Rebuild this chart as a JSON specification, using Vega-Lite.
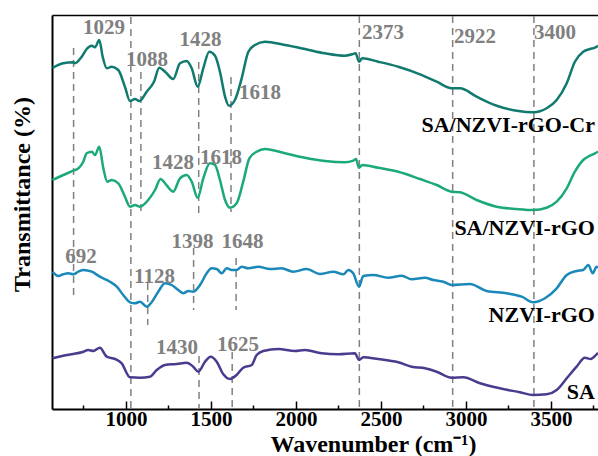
{
  "$schema": "https://vega.github.io/schema/vega-lite/v6.json",
  "width": 546,
  "height": 394,
  "autosize": {"type": "none"},
  "padding": {"left": 52, "top": 15, "right": 0, "bottom": 47},
  "config": {"view": {"stroke": null}, "font": "Liberation Serif"},
  "datasets": {
    "rules": [
      {"w": 692, "t": 361, "t2": 114},
      {"w": 1029, "t": 392, "t2": 0},
      {"w": 1088, "t": 337, "t2": 194},
      {"w": 1128, "t": 126, "t2": 84},
      {"w": 1398, "t": 161, "t2": 99},
      {"w": 1428, "t": 347, "t2": 191},
      {"w": 1430, "t": 53, "t2": 0},
      {"w": 1618, "t": 332, "t2": 197},
      {"w": 1625, "t": 57, "t2": 0},
      {"w": 1648, "t": 151, "t2": 99},
      {"w": 2373, "t": 393, "t2": 0},
      {"w": 2922, "t": 393, "t2": 0},
      {"w": 3400, "t": 393, "t2": 0}
    ],
    "peaks": [
      {"label": "1029", "w": 871, "t": 381},
      {"label": "1088", "w": 1124, "t": 349},
      {"label": "1428", "w": 1438, "t": 369},
      {"label": "1618", "w": 1788, "t": 316},
      {"label": "2373", "w": 2512, "t": 376},
      {"label": "2922", "w": 3053, "t": 372},
      {"label": "3400", "w": 3524, "t": 376},
      {"label": "1428", "w": 1277, "t": 246},
      {"label": "1618", "w": 1559, "t": 251},
      {"label": "692", "w": 736, "t": 152},
      {"label": "1128", "w": 1168, "t": 132},
      {"label": "1398", "w": 1391, "t": 167},
      {"label": "1648", "w": 1686, "t": 167},
      {"label": "1430", "w": 1300, "t": 61},
      {"label": "1625", "w": 1659, "t": 64}
    ],
    "names": [
      {"label": "SA/NZVI-rGO-Cr", "w": 3759, "t": 284},
      {"label": "SA/NZVI-rGO", "w": 3759, "t": 181},
      {"label": "NZVI-rGO", "w": 3759, "t": 94},
      {"label": "SA", "w": 3759, "t": 17}
    ],
    "spectra": [
      {"s": "SA/NZVI-rGO-Cr", "w": 568, "t": 341},
      {"s": "SA/NZVI-rGO-Cr", "w": 631, "t": 345.7},
      {"s": "SA/NZVI-rGO-Cr", "w": 690, "t": 346.7},
      {"s": "SA/NZVI-rGO-Cr", "w": 700, "t": 345.7},
      {"s": "SA/NZVI-rGO-Cr", "w": 740, "t": 352.3},
      {"s": "SA/NZVI-rGO-Cr", "w": 769, "t": 360},
      {"s": "SA/NZVI-rGO-Cr", "w": 799, "t": 363.3},
      {"s": "SA/NZVI-rGO-Cr", "w": 818, "t": 361.7},
      {"s": "SA/NZVI-rGO-Cr", "w": 843, "t": 369},
      {"s": "SA/NZVI-rGO-Cr", "w": 863, "t": 352.3},
      {"s": "SA/NZVI-rGO-Cr", "w": 887, "t": 340.7},
      {"s": "SA/NZVI-rGO-Cr", "w": 916, "t": 342.3},
      {"s": "SA/NZVI-rGO-Cr", "w": 955, "t": 339},
      {"s": "SA/NZVI-rGO-Cr", "w": 994, "t": 322.3},
      {"s": "SA/NZVI-rGO-Cr", "w": 1024, "t": 308},
      {"s": "SA/NZVI-rGO-Cr", "w": 1053, "t": 310},
      {"s": "SA/NZVI-rGO-Cr", "w": 1079, "t": 308},
      {"s": "SA/NZVI-rGO-Cr", "w": 1122, "t": 317.3},
      {"s": "SA/NZVI-rGO-Cr", "w": 1165, "t": 327.3},
      {"s": "SA/NZVI-rGO-Cr", "w": 1196, "t": 341.3},
      {"s": "SA/NZVI-rGO-Cr", "w": 1230, "t": 337.3},
      {"s": "SA/NZVI-rGO-Cr", "w": 1278, "t": 330},
      {"s": "SA/NZVI-rGO-Cr", "w": 1318, "t": 345.7},
      {"s": "SA/NZVI-rGO-Cr", "w": 1357, "t": 348},
      {"s": "SA/NZVI-rGO-Cr", "w": 1387, "t": 340.7},
      {"s": "SA/NZVI-rGO-Cr", "w": 1422, "t": 322.3},
      {"s": "SA/NZVI-rGO-Cr", "w": 1455, "t": 340.7},
      {"s": "SA/NZVI-rGO-Cr", "w": 1490, "t": 357.3},
      {"s": "SA/NZVI-rGO-Cr", "w": 1524, "t": 353.3},
      {"s": "SA/NZVI-rGO-Cr", "w": 1553, "t": 337.3},
      {"s": "SA/NZVI-rGO-Cr", "w": 1583, "t": 312.3},
      {"s": "SA/NZVI-rGO-Cr", "w": 1606, "t": 303.3},
      {"s": "SA/NZVI-rGO-Cr", "w": 1641, "t": 309},
      {"s": "SA/NZVI-rGO-Cr", "w": 1681, "t": 330.7},
      {"s": "SA/NZVI-rGO-Cr", "w": 1720, "t": 357.3},
      {"s": "SA/NZVI-rGO-Cr", "w": 1759, "t": 364},
      {"s": "SA/NZVI-rGO-Cr", "w": 1818, "t": 367.3},
      {"s": "SA/NZVI-rGO-Cr", "w": 1936, "t": 364},
      {"s": "SA/NZVI-rGO-Cr", "w": 2053, "t": 360},
      {"s": "SA/NZVI-rGO-Cr", "w": 2171, "t": 355.7},
      {"s": "SA/NZVI-rGO-Cr", "w": 2288, "t": 353.3},
      {"s": "SA/NZVI-rGO-Cr", "w": 2331, "t": 354.7},
      {"s": "SA/NZVI-rGO-Cr", "w": 2351, "t": 355.7},
      {"s": "SA/NZVI-rGO-Cr", "w": 2371, "t": 347.3},
      {"s": "SA/NZVI-rGO-Cr", "w": 2390, "t": 350.7},
      {"s": "SA/NZVI-rGO-Cr", "w": 2484, "t": 347.3},
      {"s": "SA/NZVI-rGO-Cr", "w": 2602, "t": 342.3},
      {"s": "SA/NZVI-rGO-Cr", "w": 2730, "t": 334.7},
      {"s": "SA/NZVI-rGO-Cr", "w": 2828, "t": 327.3},
      {"s": "SA/NZVI-rGO-Cr", "w": 2916, "t": 320.7},
      {"s": "SA/NZVI-rGO-Cr", "w": 2965, "t": 320.7},
      {"s": "SA/NZVI-rGO-Cr", "w": 3063, "t": 312.3},
      {"s": "SA/NZVI-rGO-Cr", "w": 3181, "t": 303.3},
      {"s": "SA/NZVI-rGO-Cr", "w": 3299, "t": 298.3},
      {"s": "SA/NZVI-rGO-Cr", "w": 3396, "t": 296.7},
      {"s": "SA/NZVI-rGO-Cr", "w": 3475, "t": 300.7},
      {"s": "SA/NZVI-rGO-Cr", "w": 3534, "t": 309},
      {"s": "SA/NZVI-rGO-Cr", "w": 3593, "t": 325.7},
      {"s": "SA/NZVI-rGO-Cr", "w": 3641, "t": 347.3},
      {"s": "SA/NZVI-rGO-Cr", "w": 3690, "t": 357.3},
      {"s": "SA/NZVI-rGO-Cr", "w": 3730, "t": 360},
      {"s": "SA/NZVI-rGO-Cr", "w": 3759, "t": 361.3},
      {"s": "SA/NZVI-rGO-Cr", "w": 3777, "t": 363.3},

      {"s": "SA/NZVI-rGO", "w": 568, "t": 229},
      {"s": "SA/NZVI-rGO", "w": 631, "t": 234},
      {"s": "SA/NZVI-rGO", "w": 690, "t": 238.3},
      {"s": "SA/NZVI-rGO", "w": 720, "t": 240.7},
      {"s": "SA/NZVI-rGO", "w": 749, "t": 247.3},
      {"s": "SA/NZVI-rGO", "w": 769, "t": 255.7},
      {"s": "SA/NZVI-rGO", "w": 799, "t": 257.3},
      {"s": "SA/NZVI-rGO", "w": 818, "t": 254},
      {"s": "SA/NZVI-rGO", "w": 843, "t": 262.3},
      {"s": "SA/NZVI-rGO", "w": 867, "t": 240.7},
      {"s": "SA/NZVI-rGO", "w": 890, "t": 227.3},
      {"s": "SA/NZVI-rGO", "w": 916, "t": 229},
      {"s": "SA/NZVI-rGO", "w": 955, "t": 225.7},
      {"s": "SA/NZVI-rGO", "w": 994, "t": 212.3},
      {"s": "SA/NZVI-rGO", "w": 1024, "t": 202.3},
      {"s": "SA/NZVI-rGO", "w": 1053, "t": 204},
      {"s": "SA/NZVI-rGO", "w": 1083, "t": 202.3},
      {"s": "SA/NZVI-rGO", "w": 1131, "t": 209},
      {"s": "SA/NZVI-rGO", "w": 1171, "t": 219},
      {"s": "SA/NZVI-rGO", "w": 1204, "t": 230},
      {"s": "SA/NZVI-rGO", "w": 1230, "t": 225.7},
      {"s": "SA/NZVI-rGO", "w": 1278, "t": 217.3},
      {"s": "SA/NZVI-rGO", "w": 1318, "t": 230.7},
      {"s": "SA/NZVI-rGO", "w": 1357, "t": 234},
      {"s": "SA/NZVI-rGO", "w": 1387, "t": 227.3},
      {"s": "SA/NZVI-rGO", "w": 1422, "t": 211.3},
      {"s": "SA/NZVI-rGO", "w": 1455, "t": 230.7},
      {"s": "SA/NZVI-rGO", "w": 1494, "t": 245.7},
      {"s": "SA/NZVI-rGO", "w": 1524, "t": 244},
      {"s": "SA/NZVI-rGO", "w": 1553, "t": 229},
      {"s": "SA/NZVI-rGO", "w": 1583, "t": 209},
      {"s": "SA/NZVI-rGO", "w": 1612, "t": 201.3},
      {"s": "SA/NZVI-rGO", "w": 1651, "t": 205.7},
      {"s": "SA/NZVI-rGO", "w": 1690, "t": 227.3},
      {"s": "SA/NZVI-rGO", "w": 1726, "t": 250.7},
      {"s": "SA/NZVI-rGO", "w": 1769, "t": 257.3},
      {"s": "SA/NZVI-rGO", "w": 1818, "t": 260},
      {"s": "SA/NZVI-rGO", "w": 1936, "t": 255.7},
      {"s": "SA/NZVI-rGO", "w": 2053, "t": 251.3},
      {"s": "SA/NZVI-rGO", "w": 2171, "t": 248},
      {"s": "SA/NZVI-rGO", "w": 2288, "t": 246.7},
      {"s": "SA/NZVI-rGO", "w": 2337, "t": 248.3},
      {"s": "SA/NZVI-rGO", "w": 2353, "t": 250},
      {"s": "SA/NZVI-rGO", "w": 2371, "t": 241.3},
      {"s": "SA/NZVI-rGO", "w": 2390, "t": 244},
      {"s": "SA/NZVI-rGO", "w": 2484, "t": 241.3},
      {"s": "SA/NZVI-rGO", "w": 2602, "t": 237.3},
      {"s": "SA/NZVI-rGO", "w": 2730, "t": 230},
      {"s": "SA/NZVI-rGO", "w": 2828, "t": 224},
      {"s": "SA/NZVI-rGO", "w": 2916, "t": 217.3},
      {"s": "SA/NZVI-rGO", "w": 2965, "t": 216.7},
      {"s": "SA/NZVI-rGO", "w": 3063, "t": 209},
      {"s": "SA/NZVI-rGO", "w": 3181, "t": 202.3},
      {"s": "SA/NZVI-rGO", "w": 3299, "t": 200},
      {"s": "SA/NZVI-rGO", "w": 3396, "t": 199},
      {"s": "SA/NZVI-rGO", "w": 3475, "t": 201.3},
      {"s": "SA/NZVI-rGO", "w": 3534, "t": 207.3},
      {"s": "SA/NZVI-rGO", "w": 3593, "t": 220.7},
      {"s": "SA/NZVI-rGO", "w": 3641, "t": 237.3},
      {"s": "SA/NZVI-rGO", "w": 3690, "t": 249},
      {"s": "SA/NZVI-rGO", "w": 3730, "t": 253.3},
      {"s": "SA/NZVI-rGO", "w": 3759, "t": 255.7},
      {"s": "SA/NZVI-rGO", "w": 3777, "t": 257.3},

      {"s": "NZVI-rGO", "w": 568, "t": 137.3},
      {"s": "NZVI-rGO", "w": 602, "t": 133},
      {"s": "NZVI-rGO", "w": 631, "t": 134.7},
      {"s": "NZVI-rGO", "w": 661, "t": 135.7},
      {"s": "NZVI-rGO", "w": 690, "t": 134.7},
      {"s": "NZVI-rGO", "w": 720, "t": 137.3},
      {"s": "NZVI-rGO", "w": 749, "t": 139},
      {"s": "NZVI-rGO", "w": 799, "t": 137.3},
      {"s": "NZVI-rGO", "w": 847, "t": 132.3},
      {"s": "NZVI-rGO", "w": 906, "t": 127.3},
      {"s": "NZVI-rGO", "w": 946, "t": 122.3},
      {"s": "NZVI-rGO", "w": 984, "t": 114},
      {"s": "NZVI-rGO", "w": 1024, "t": 106.7},
      {"s": "NZVI-rGO", "w": 1053, "t": 105.7},
      {"s": "NZVI-rGO", "w": 1083, "t": 107.3},
      {"s": "NZVI-rGO", "w": 1122, "t": 102.3},
      {"s": "NZVI-rGO", "w": 1151, "t": 106.7},
      {"s": "NZVI-rGO", "w": 1190, "t": 117.3},
      {"s": "NZVI-rGO", "w": 1230, "t": 125.7},
      {"s": "NZVI-rGO", "w": 1269, "t": 124},
      {"s": "NZVI-rGO", "w": 1308, "t": 119},
      {"s": "NZVI-rGO", "w": 1337, "t": 115.7},
      {"s": "NZVI-rGO", "w": 1367, "t": 118},
      {"s": "NZVI-rGO", "w": 1396, "t": 117.3},
      {"s": "NZVI-rGO", "w": 1436, "t": 124},
      {"s": "NZVI-rGO", "w": 1475, "t": 135.7},
      {"s": "NZVI-rGO", "w": 1504, "t": 140.7},
      {"s": "NZVI-rGO", "w": 1534, "t": 140},
      {"s": "NZVI-rGO", "w": 1563, "t": 135.7},
      {"s": "NZVI-rGO", "w": 1593, "t": 140.7},
      {"s": "NZVI-rGO", "w": 1622, "t": 139},
      {"s": "NZVI-rGO", "w": 1651, "t": 139},
      {"s": "NZVI-rGO", "w": 1681, "t": 142.3},
      {"s": "NZVI-rGO", "w": 1720, "t": 140.7},
      {"s": "NZVI-rGO", "w": 1779, "t": 142.3},
      {"s": "NZVI-rGO", "w": 1847, "t": 140},
      {"s": "NZVI-rGO", "w": 1916, "t": 140.7},
      {"s": "NZVI-rGO", "w": 1984, "t": 137.3},
      {"s": "NZVI-rGO", "w": 2063, "t": 140},
      {"s": "NZVI-rGO", "w": 2141, "t": 135},
      {"s": "NZVI-rGO", "w": 2220, "t": 137.3},
      {"s": "NZVI-rGO", "w": 2279, "t": 134.7},
      {"s": "NZVI-rGO", "w": 2308, "t": 139},
      {"s": "NZVI-rGO", "w": 2337, "t": 135.7},
      {"s": "NZVI-rGO", "w": 2371, "t": 122.3},
      {"s": "NZVI-rGO", "w": 2396, "t": 133},
      {"s": "NZVI-rGO", "w": 2455, "t": 134},
      {"s": "NZVI-rGO", "w": 2543, "t": 131.3},
      {"s": "NZVI-rGO", "w": 2622, "t": 133.3},
      {"s": "NZVI-rGO", "w": 2681, "t": 129.7},
      {"s": "NZVI-rGO", "w": 2759, "t": 131.3},
      {"s": "NZVI-rGO", "w": 2808, "t": 129},
      {"s": "NZVI-rGO", "w": 2867, "t": 127.3},
      {"s": "NZVI-rGO", "w": 2916, "t": 124},
      {"s": "NZVI-rGO", "w": 3024, "t": 125},
      {"s": "NZVI-rGO", "w": 3122, "t": 118},
      {"s": "NZVI-rGO", "w": 3240, "t": 115.7},
      {"s": "NZVI-rGO", "w": 3328, "t": 112.3},
      {"s": "NZVI-rGO", "w": 3396, "t": 106.7},
      {"s": "NZVI-rGO", "w": 3465, "t": 110.7},
      {"s": "NZVI-rGO", "w": 3534, "t": 120.7},
      {"s": "NZVI-rGO", "w": 3593, "t": 134},
      {"s": "NZVI-rGO", "w": 3651, "t": 138},
      {"s": "NZVI-rGO", "w": 3690, "t": 139},
      {"s": "NZVI-rGO", "w": 3720, "t": 144},
      {"s": "NZVI-rGO", "w": 3746, "t": 135.7},
      {"s": "NZVI-rGO", "w": 3769, "t": 142.3},
      {"s": "NZVI-rGO", "w": 3777, "t": 141},

      {"s": "SA", "w": 568, "t": 50.7},
      {"s": "SA", "w": 631, "t": 53.3},
      {"s": "SA", "w": 690, "t": 55},
      {"s": "SA", "w": 740, "t": 56.7},
      {"s": "SA", "w": 779, "t": 59},
      {"s": "SA", "w": 808, "t": 58},
      {"s": "SA", "w": 847, "t": 61.3},
      {"s": "SA", "w": 887, "t": 52.3},
      {"s": "SA", "w": 936, "t": 50},
      {"s": "SA", "w": 975, "t": 45.7},
      {"s": "SA", "w": 1024, "t": 31.7},
      {"s": "SA", "w": 1083, "t": 31.3},
      {"s": "SA", "w": 1141, "t": 32.3},
      {"s": "SA", "w": 1181, "t": 39},
      {"s": "SA", "w": 1230, "t": 44},
      {"s": "SA", "w": 1298, "t": 45},
      {"s": "SA", "w": 1357, "t": 46.3},
      {"s": "SA", "w": 1396, "t": 42.3},
      {"s": "SA", "w": 1426, "t": 37.3},
      {"s": "SA", "w": 1465, "t": 47.3},
      {"s": "SA", "w": 1499, "t": 52.3},
      {"s": "SA", "w": 1534, "t": 47.3},
      {"s": "SA", "w": 1573, "t": 34.7},
      {"s": "SA", "w": 1612, "t": 30},
      {"s": "SA", "w": 1651, "t": 34},
      {"s": "SA", "w": 1690, "t": 41.3},
      {"s": "SA", "w": 1740, "t": 44},
      {"s": "SA", "w": 1769, "t": 54},
      {"s": "SA", "w": 1808, "t": 58},
      {"s": "SA", "w": 1896, "t": 60},
      {"s": "SA", "w": 1994, "t": 58},
      {"s": "SA", "w": 2053, "t": 59},
      {"s": "SA", "w": 2151, "t": 55.7},
      {"s": "SA", "w": 2249, "t": 54.7},
      {"s": "SA", "w": 2347, "t": 55.7},
      {"s": "SA", "w": 2371, "t": 49},
      {"s": "SA", "w": 2396, "t": 51.7},
      {"s": "SA", "w": 2484, "t": 50},
      {"s": "SA", "w": 2602, "t": 46.7},
      {"s": "SA", "w": 2681, "t": 42.3},
      {"s": "SA", "w": 2759, "t": 40.7},
      {"s": "SA", "w": 2828, "t": 37.3},
      {"s": "SA", "w": 2916, "t": 31.3},
      {"s": "SA", "w": 2984, "t": 31.7},
      {"s": "SA", "w": 3083, "t": 25.7},
      {"s": "SA", "w": 3200, "t": 20.7},
      {"s": "SA", "w": 3318, "t": 16.7},
      {"s": "SA", "w": 3396, "t": 14},
      {"s": "SA", "w": 3475, "t": 14.7},
      {"s": "SA", "w": 3534, "t": 19},
      {"s": "SA", "w": 3593, "t": 30.7},
      {"s": "SA", "w": 3651, "t": 42.3},
      {"s": "SA", "w": 3700, "t": 51.3},
      {"s": "SA", "w": 3734, "t": 50},
      {"s": "SA", "w": 3769, "t": 54.7},
      {"s": "SA", "w": 3777, "t": 56}
    ]
  },
  "layer": [
    {
      "data": {"name": "rules"},
      "mark": {"type": "rule", "color": "#808080", "strokeDash": [7, 5], "strokeWidth": 1.5},
      "encoding": {
        "x": {
          "field": "w", "type": "quantitative",
          "scale": {"domain": [565, 3777], "nice": false, "zero": false},
          "axis": {"orient": "top", "labels": false, "ticks": false, "grid": false, "title": null, "domain": true, "domainColor": "black", "domainWidth": 1.5}
        },
        "y": {
          "field": "t", "type": "quantitative",
          "scale": {"domain": [0, 394], "nice": false, "zero": false},
          "axis": {
            "title": "Transmittance (%)", "labels": false, "ticks": false, "grid": false,
            "domainColor": "black", "domainWidth": 2,
            "titleFont": "Liberation Serif", "titleFontSize": 24, "titleFontWeight": "bold", "titleColor": "black",
            "titleAngle": 270, "titleX": -30, "titleY": 179, "titleAlign": "center", "titleBaseline": "middle"
          }
        },
        "y2": {"field": "t2"}
      }
    },
    {
      "data": {"name": "spectra"},
      "mark": {"type": "line", "strokeWidth": 2.5, "interpolate": "monotone", "clip": true},
      "encoding": {
        "x": {
          "field": "w", "type": "quantitative",
          "axis": {
            "orient": "bottom", "grid": false, "format": "d",
            "values": [750, 1000, 1250, 1500, 1750, 2000, 2250, 2500, 2750, 3000, 3250, 3500, 3750],
            "labelExpr": "datum.value % 500 === 0 ? datum.label : ''",
            "tickSize": {"condition": {"test": "datum.value % 500 === 0", "value": -8}, "value": -4},
            "tickColor": "black", "tickWidth": 1.5,
            "domainColor": "black", "domainWidth": 2,
            "labelFont": "Liberation Serif", "labelFontSize": 21, "labelFontWeight": "bold", "labelColor": "black",
            "labelPadding": 7, "labelFlush": false, "labelOverlap": false,
            "title": "Wavenumber (cm⁻¹)", "titleFont": "Liberation Serif", "titleFontSize": 24, "titleFontWeight": "bold", "titleColor": "black",
            "titleX": 321, "titleY": 42, "titleBaseline": "alphabetic", "titleAlign": "center"
          }
        },
        "y": {"field": "t", "type": "quantitative"},
        "color": {
          "field": "s", "type": "nominal", "legend": null,
          "scale": {"domain": ["SA/NZVI-rGO-Cr", "SA/NZVI-rGO", "NZVI-rGO", "SA"], "range": ["#117a6f", "#1ba97a", "#1a88b8", "#4b3a8e"]}
        }
      }
    },
    {
      "data": {"name": "peaks"},
      "mark": {"type": "text", "font": "Liberation Serif", "fontSize": 21, "fontWeight": "bold", "color": "#808080", "align": "center", "baseline": "middle"},
      "encoding": {
        "x": {"field": "w", "type": "quantitative", "axis": null},
        "y": {"field": "t", "type": "quantitative"},
        "text": {"field": "label"}
      }
    },
    {
      "data": {"name": "names"},
      "mark": {"type": "text", "font": "Liberation Serif", "fontSize": 22, "fontWeight": "bold", "color": "black", "align": "right", "baseline": "middle"},
      "encoding": {
        "x": {"field": "w", "type": "quantitative", "axis": null},
        "y": {"field": "t", "type": "quantitative"},
        "text": {"field": "label"}
      }
    }
  ],
  "resolve": {"axis": {"x": "independent"}}
}
